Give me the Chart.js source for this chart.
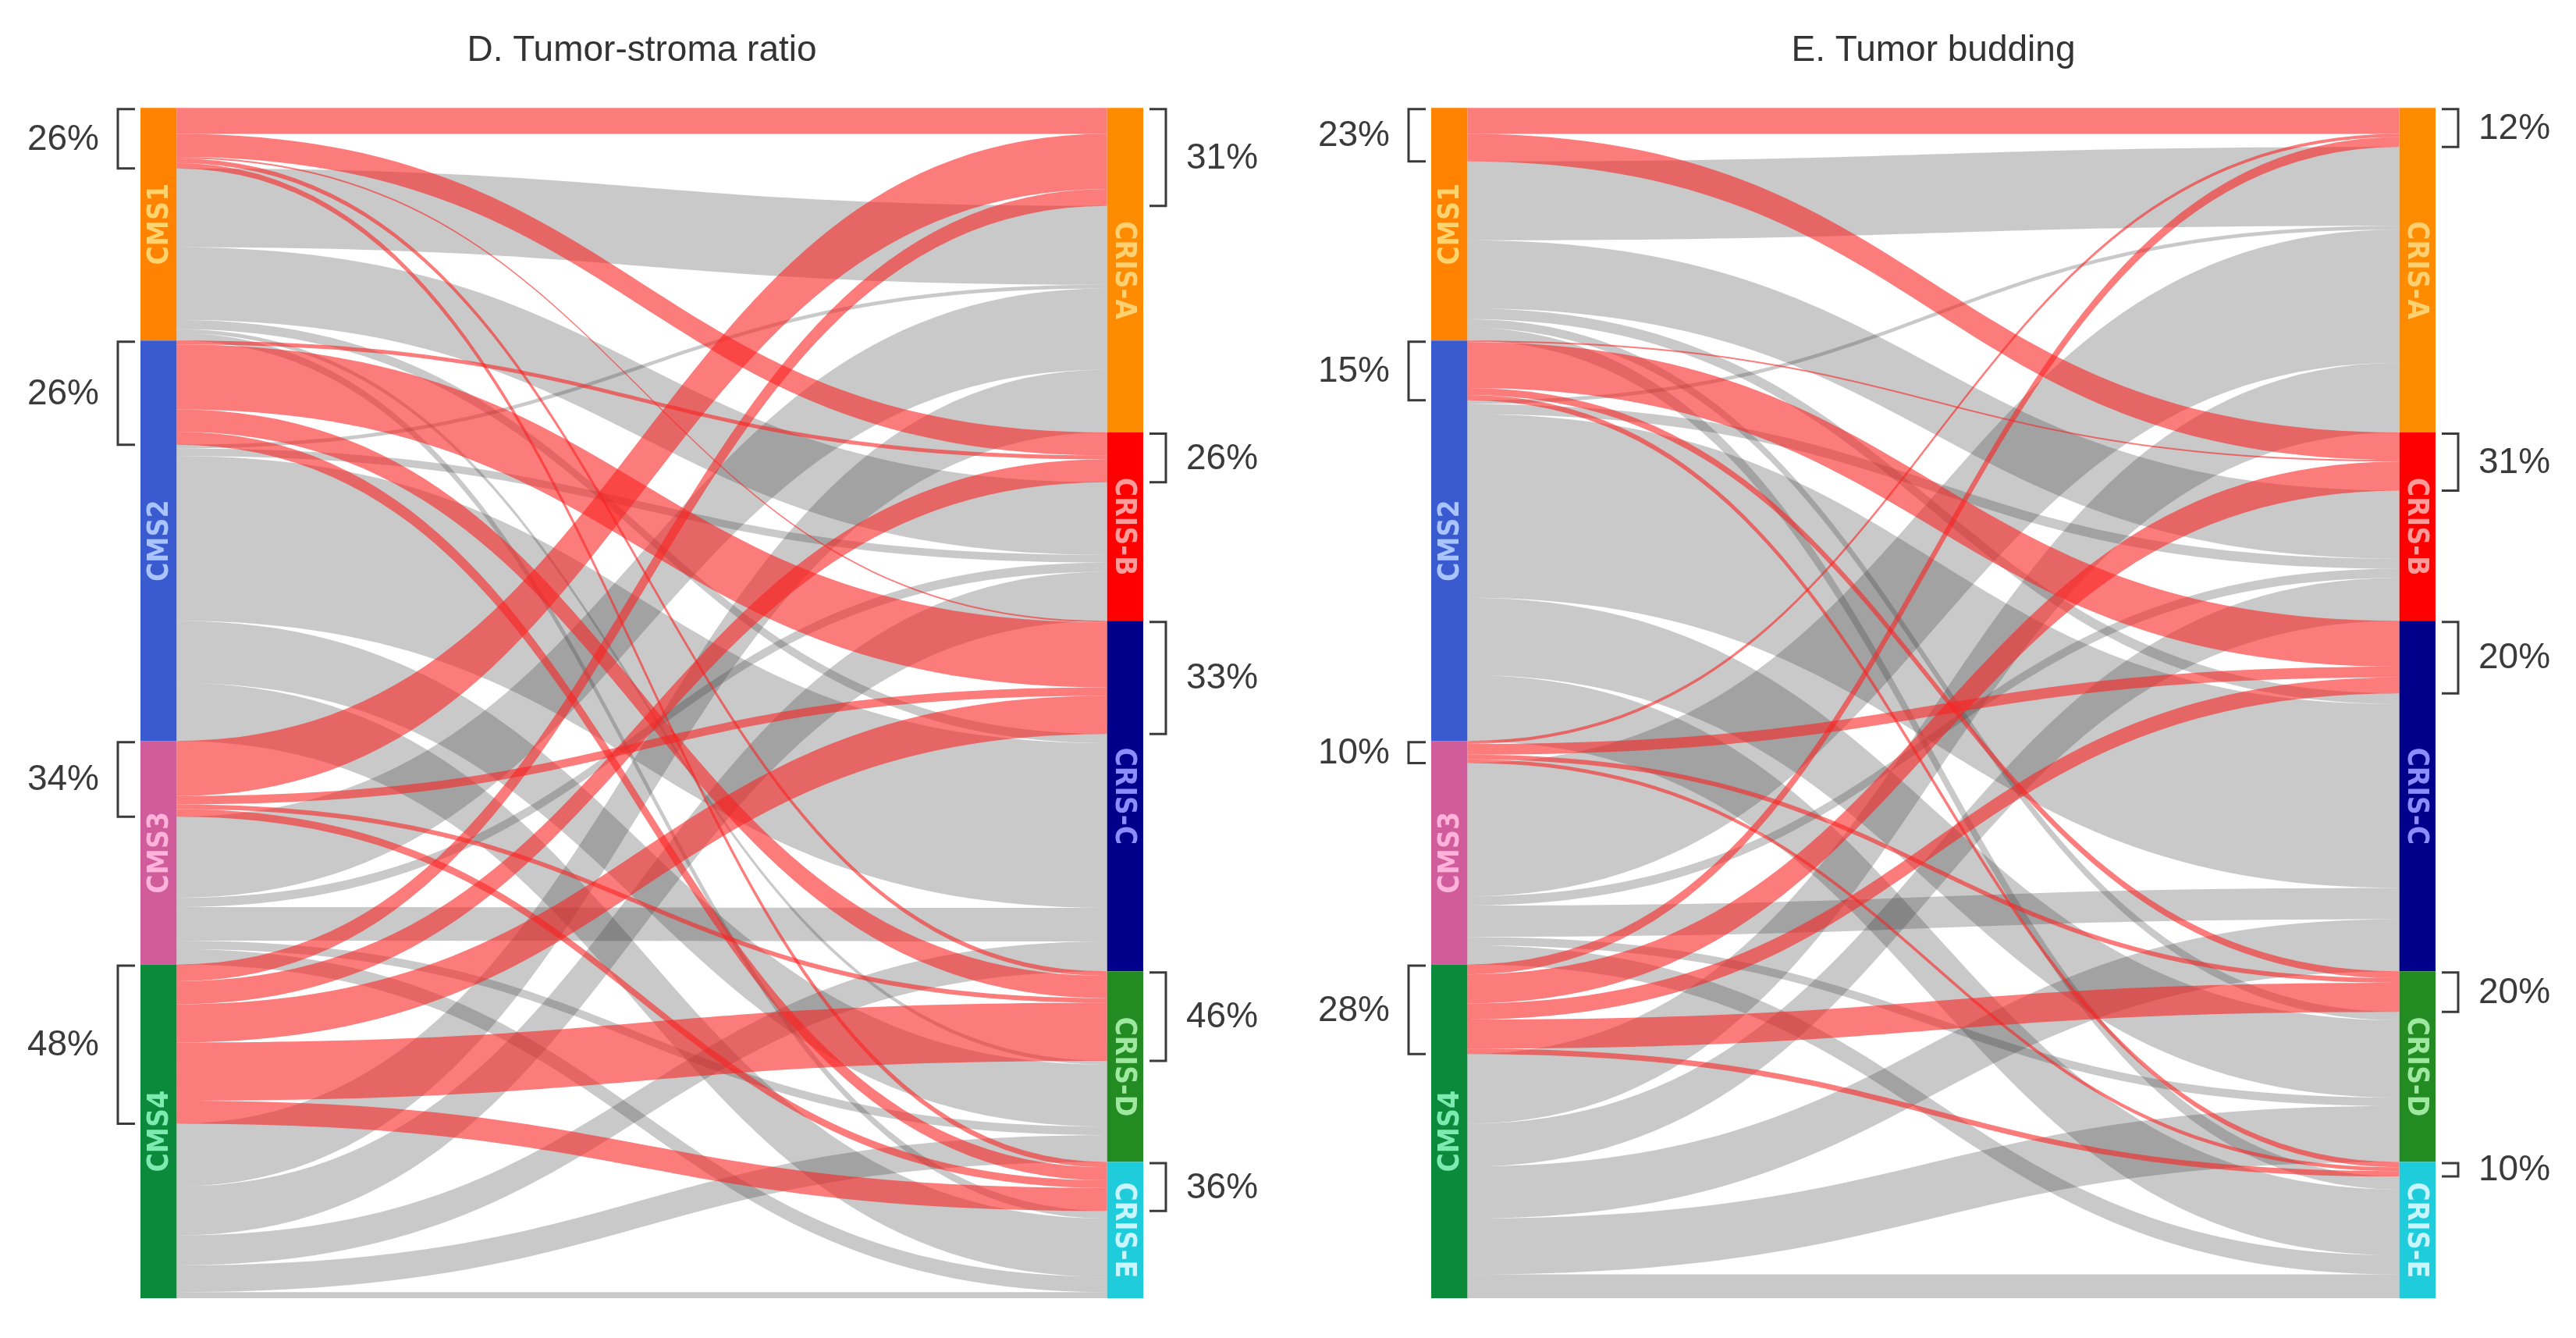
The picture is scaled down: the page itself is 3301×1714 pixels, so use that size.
<!DOCTYPE html>
<html>
<head>
<meta charset="utf-8">
<script src="https://cdn.jsdelivr.net/npm/chart.js@4.4.1/dist/chart.umd.min.js"></script>
<style>
  body { margin: 0; background: #fff; }
  canvas { position: absolute; top: 0; }
  #chartD { left: 0; }
  #chartE { left: 1650px; }
</style>
</head>
<body>
<canvas id="chartD" width="1650" height="1714"></canvas>
<canvas id="chartE" width="1651" height="1714"></canvas>
<script>
// Categories
const cmsLabels = ['CMS1', 'CMS2', 'CMS3', 'CMS4'];
const crisLabels = ['CRIS-A', 'CRIS-B', 'CRIS-C', 'CRIS-D', 'CRIS-E'];

// Patients from each CMS group to CRIS-A..E (same cohort in both panels)
const cms1ToCris = [137, 125, 14, 11, 17];
const cms2ToCris = [5, 15, 300, 110, 93];
const cms3ToCris = [178, 12, 55, 17, 30];
const cms4ToCris = [104, 94, 89, 111, 38];

// D. high tumor-stroma ratio part of each flow
const stromaCms1 = [34, 30, 2, 6, 7];
const stromaCms2 = [0, 5, 85, 29, 17];
const stromaCms3 = [72, 0, 11, 6, 10];
const stromaCms4 = [22, 30, 50, 76, 30];

// E. high tumor budding part of each flow
const buddingCms1 = [34, 36, 0, 0, 0];
const buddingCms2 = [0, 2, 60, 9, 7];
const buddingCms3 = [4, 0, 14, 6, 5];
const buddingCms4 = [13, 38, 21, 38, 7];

// Bracket labels
const stromaCmsPct = ['26%', '26%', '34%', '48%'];
const stromaCrisPct = ['31%', '26%', '33%', '46%', '36%'];
const buddingCmsPct = ['23%', '15%', '10%', '28%'];
const buddingCrisPct = ['12%', '31%', '20%', '20%', '10%'];

const cmsColors = ['#FF8200', '#3A5BD0', '#D05C9C', '#0B8A3C'];
const cmsTextColors = ['#FFD36E', '#A9C4FF', '#FFB3DA', '#7DEBB0'];
const crisColors = ['#FF8C00', '#FF0000', '#00008B', '#228B22', '#1FCCDB'];
const crisTextColors = ['#FFD070', '#FF9A9A', '#8C8CFF', '#9FE89F', '#C8F6FF'];

const allRows = [cms1ToCris, cms2ToCris, cms3ToCris, cms4ToCris];
const grandTotal = allRows.flat().reduce((a, b) => a + b, 0);
const BAR_W = 0.036; // node width in x-scale units

const sum = arr => arr.reduce((a, b) => a + b, 0);

// Draws ribbons, nodes and brackets through the chart's x / y scales
const makeAlluvialPlugin = (high, leftPct, rightPct) => ({
    id: 'alluvial',
    afterDraw(chart) {
        const { ctx } = chart;
        const x = chart.scales.x;
        const y = chart.scales.y;
        const nL = allRows.length;
        const nR = crisLabels.length;

        const low = allRows.map((row, i) => row.map((v, j) => v - high[i][j]));
        const leftSize = allRows.map(sum);
        const rightSize = crisLabels.map((_, j) => sum(allRows.map(r => r[j])));

        const leftTop = [];
        let acc = 0;
        leftSize.forEach(s => { leftTop.push(acc); acc += s; });
        const rightTop = [];
        acc = 0;
        rightSize.forEach(s => { rightTop.push(acc); acc += s; });

        // stacking: red first then grey, on both sides
        const posL = { high: [], low: [] };
        const posR = { high: [], low: [] };
        for (let i = 0; i < nL; i++) {
            let c = leftTop[i];
            posL.high[i] = []; posL.low[i] = [];
            for (let j = 0; j < nR; j++) { posL.high[i][j] = c; c += high[i][j]; }
            for (let j = 0; j < nR; j++) { posL.low[i][j] = c; c += low[i][j]; }
        }
        for (let i = 0; i < nL; i++) { posR.high[i] = []; posR.low[i] = []; }
        for (let j = 0; j < nR; j++) {
            let c = rightTop[j];
            for (let i = 0; i < nL; i++) { posR.high[i][j] = c; c += high[i][j]; }
            for (let i = 0; i < nL; i++) { posR.low[i][j] = c; c += low[i][j]; }
        }

        const xa = x.getPixelForValue(BAR_W);
        const xb = x.getPixelForValue(1 - BAR_W);
        const xm = (xa + xb) / 2;

        const ribbon = (y0, y1, w, color) => {
            if (w <= 0) return;
            const t0 = y.getPixelForValue(y0), b0 = y.getPixelForValue(y0 + w);
            const t1 = y.getPixelForValue(y1), b1 = y.getPixelForValue(y1 + w);
            ctx.beginPath();
            ctx.moveTo(xa, t0);
            ctx.bezierCurveTo(xm, t0, xm, t1, xb, t1);
            ctx.lineTo(xb, b1);
            ctx.bezierCurveTo(xm, b1, xm, b0, xa, b0);
            ctx.closePath();
            ctx.fillStyle = color;
            ctx.fill();
        };

        ctx.save();
        for (let i = 0; i < nL; i++)
            for (let j = 0; j < nR; j++)
                ribbon(posL.low[i][j], posR.low[i][j], low[i][j], 'rgba(60,60,60,0.28)');
        for (let i = 0; i < nL; i++)
            for (let j = 0; j < nR; j++)
                ribbon(posL.high[i][j], posR.high[i][j], high[i][j], 'rgba(250,35,35,0.6)');

        // nodes
        const nodeFont = "bold 37px 'Liberation Sans Narrow', 'DejaVu Sans Condensed', 'Liberation Sans', sans-serif";
        const drawNode = (x0, x1, top, size, color, textColor, label, angle) => {
            const py0 = y.getPixelForValue(top);
            const py1 = y.getPixelForValue(top + size);
            ctx.fillStyle = color;
            ctx.fillRect(x0, py0, x1 - x0, py1 - py0);
            ctx.save();
            ctx.translate((x0 + x1) / 2, (py0 + py1) / 2);
            ctx.rotate(angle);
            ctx.font = nodeFont;
            ctx.fillStyle = textColor;
            ctx.textAlign = 'center';
            ctx.textBaseline = 'middle';
            ctx.fillText(label, 0, 2);
            ctx.restore();
        };
        const lx0 = x.getPixelForValue(0), lx1 = x.getPixelForValue(BAR_W);
        const rx0 = x.getPixelForValue(1 - BAR_W), rx1 = x.getPixelForValue(1);
        cmsLabels.forEach((lab, i) =>
            drawNode(lx0, lx1, leftTop[i], leftSize[i], cmsColors[i], cmsTextColors[i], lab, -Math.PI / 2));
        crisLabels.forEach((lab, j) =>
            drawNode(rx0, rx1, rightTop[j], rightSize[j], crisColors[j], crisTextColors[j], lab, Math.PI / 2));

        // brackets with percentages
        ctx.strokeStyle = '#3a3a3a';
        ctx.lineWidth = 3;
        ctx.fillStyle = '#3a3a3a';
        ctx.font = "46px 'Liberation Sans', Arial, sans-serif";
        ctx.textBaseline = 'middle';
        cmsLabels.forEach((_, i) => {
            const t = y.getPixelForValue(leftTop[i]);
            const b = y.getPixelForValue(leftTop[i] + sum(high[i]));
            ctx.beginPath();
            ctx.moveTo(lx0 - 7, t + 1.5);
            ctx.lineTo(lx0 - 29, t + 1.5);
            ctx.lineTo(lx0 - 29, b);
            ctx.lineTo(lx0 - 7, b);
            ctx.stroke();
            ctx.textAlign = 'right';
            ctx.fillText(leftPct[i], lx0 - 53, (t + b) / 2 + 2);
        });
        crisLabels.forEach((_, j) => {
            const redIn = sum(high.map(r => r[j]));
            const t = y.getPixelForValue(rightTop[j]);
            const b = y.getPixelForValue(rightTop[j] + redIn);
            ctx.beginPath();
            ctx.moveTo(rx1 + 8, t + 1.5);
            ctx.lineTo(rx1 + 29, t + 1.5);
            ctx.lineTo(rx1 + 29, b);
            ctx.lineTo(rx1 + 8, b);
            ctx.stroke();
            ctx.textAlign = 'left';
            ctx.fillText(rightPct[j], rx1 + 55, (t + b) / 2 + 2);
        });
        ctx.restore();
    }
});

const makeChart = (canvasId, title, high, leftPct, rightPct, padLeft, padRight) => {
    const ctx = document.getElementById(canvasId).getContext('2d');
    return new Chart(ctx, {
        type: 'scatter',
        data: { datasets: [] },
        options: {
            responsive: false,
            animation: false,
            devicePixelRatio: 1,
            layout: { padding: { left: padLeft, right: padRight, top: 0, bottom: 51 } },
            scales: {
                x: { type: 'linear', min: 0, max: 1, display: false },
                y: { type: 'linear', min: 0, max: grandTotal, reverse: true, display: false }
            },
            plugins: {
                legend: { display: false },
                tooltip: { enabled: false },
                title: {
                    display: true,
                    text: title,
                    color: '#333',
                    font: { family: "'Liberation Sans', Arial, sans-serif", size: 46, weight: 'normal' },
                    padding: { top: 38, bottom: 45 }
                }
            }
        },
        plugins: [makeAlluvialPlugin(high, leftPct, rightPct)]
    });
};

makeChart('chartD', 'D. Tumor-stroma ratio',
    [stromaCms1, stromaCms2, stromaCms3, stromaCms4], stromaCmsPct, stromaCrisPct, 180, 185);
makeChart('chartE', 'E. Tumor budding',
    [buddingCms1, buddingCms2, buddingCms3, buddingCms4], buddingCmsPct, buddingCrisPct, 184, 180);
</script>
</body>
</html>
